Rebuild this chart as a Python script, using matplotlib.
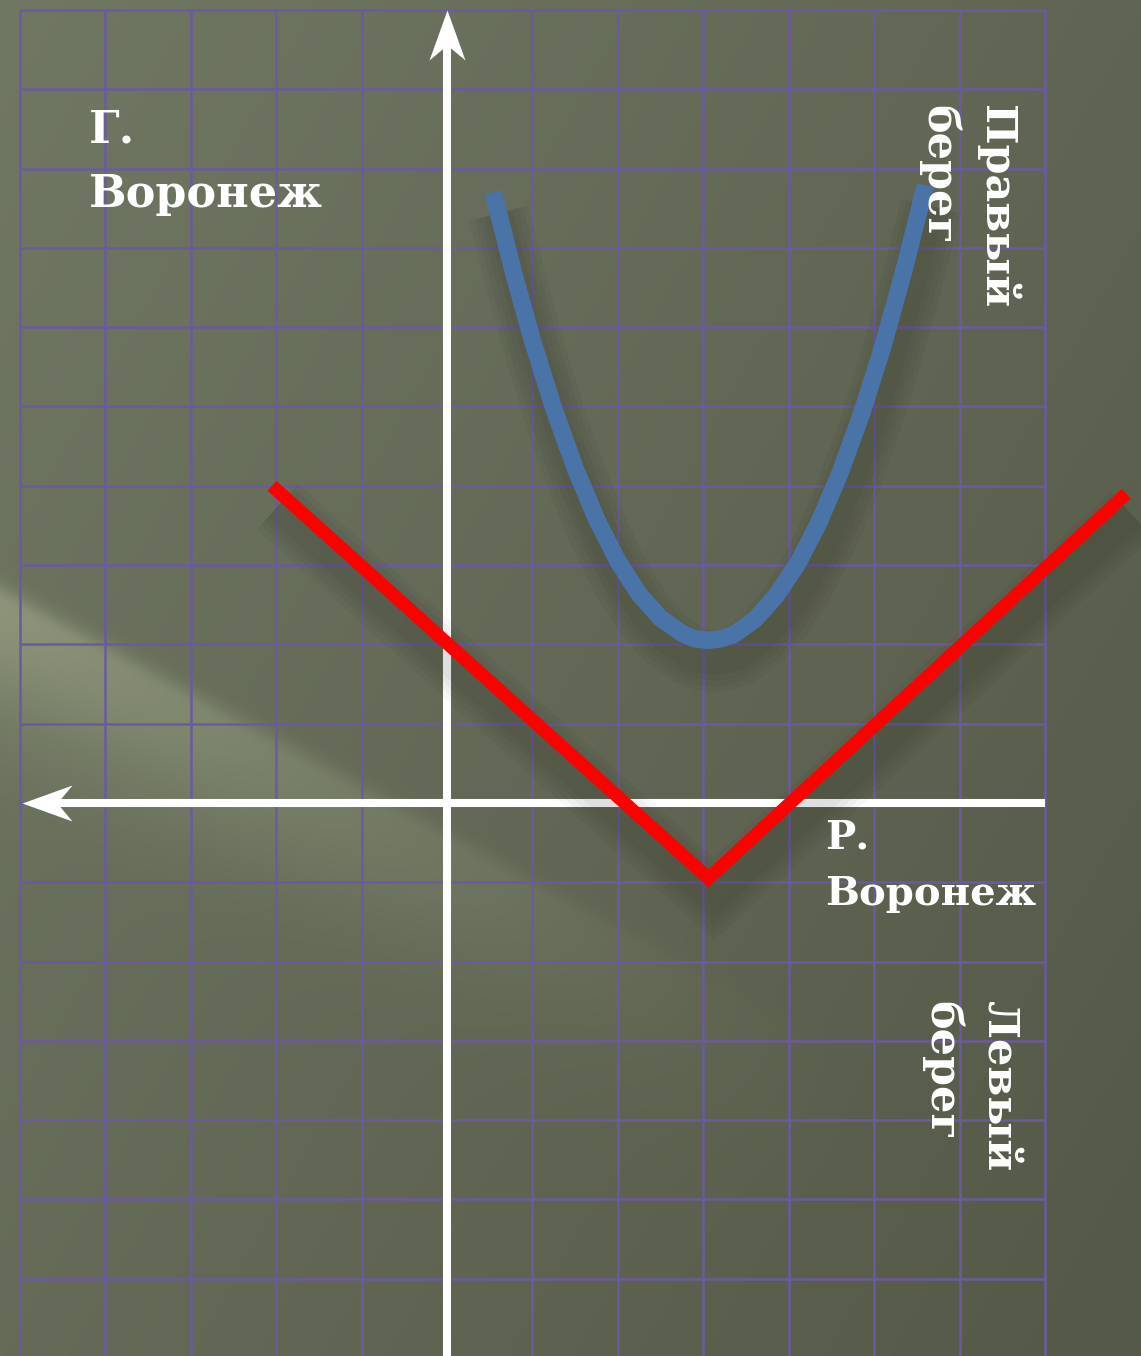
import numpy as np
import matplotlib
matplotlib.use("Agg")
from matplotlib import pyplot as plt
from matplotlib.path import Path
import matplotlib.patheffects as pe

# grid / axes extent (in grid cells)
grid_x = list(range(-5, 8))
grid_y = list(range(-6, 11))

# red broken line
red_x = [-2.05, 3.06, 7.95]
red_y = [4.0, -0.95, 3.9]

# blue parabola, points
blue_x = [0.54, 0.8, 1.0, 1.25, 1.5, 1.75, 2.0, 2.25, 2.5, 2.75, 2.9, 3.06,
          3.2, 3.35, 3.6, 3.85, 4.1, 4.35, 4.6, 4.85, 5.1, 5.35, 5.6]
blue_y = [7.70, 6.60, 5.83, 4.97, 4.22, 3.58, 3.05, 2.63, 2.33, 2.14, 2.07, 2.05,
          2.07, 2.12, 2.31, 2.61, 3.01, 3.53, 4.16, 4.90, 5.75, 6.72, 7.79]

xmin, xmax = -5.234, 8.124
ymin, ymax = -6.974, 10.126

fig = plt.figure(figsize=(11.41, 13.56), dpi=100)
ax = fig.add_axes([0, 0, 1, 1])
ax.set_xlim(xmin, xmax)
ax.set_ylim(ymin, ymax)
ax.axis('off')

# background: olive board with a soft light streak
H, W = 339, 285
yy, xx = np.mgrid[0:H, 0:W]
px = xx * 4.0
py = yy * 4.0
c0 = np.array([112, 119, 99]) / 255.
c1 = np.array([84, 89, 71]) / 255.
t = np.clip(0.6 * px / 1141 + 0.4 * py / 1356, 0, 1)[..., None]
bg = c0 * (1 - t) + c1 * t
# streak (sharper upper edge, soft lower side)
d = (py - (600 + 0.55 * px)) / np.hypot(1, 0.55)
prof = np.where(d < 0, np.exp(-(d / 15.0) ** 2), np.exp(-(d / 100.0) ** 2))
along = np.clip(1 - px / 850, 0, 1)
streak = prof * along ** 1.5
bg = bg + streak[..., None] * (np.array([148, 156, 128]) / 255. - bg) * 0.8
ax.imshow(np.clip(bg, 0, 1), extent=(xmin, xmax, ymin, ymax), aspect='auto',
          interpolation='bilinear', zorder=0)

gcol = '#6c5a9e'
ax.vlines(grid_x, ymin, 10, color=gcol, lw=1.8, zorder=1)
ax.hlines(grid_y, -5, 7, color=gcol, lw=1.8, zorder=1)

# axes with arrow heads
ax.plot([0, 0], [ymin, 9.6], color='white', lw=5.8, solid_capstyle='butt', zorder=2)
ax.plot([7, -4.6], [0, 0], color='white', lw=5.8, solid_capstyle='butt', zorder=2)
up_head = Path([(0, 0), (18, -50), (0, -35), (-18, -50), (0, 0)],
               [Path.MOVETO, Path.LINETO, Path.LINETO, Path.LINETO, Path.CLOSEPOLY])
left_head = Path([(0, 0), (50, 18), (35, 0), (50, -18), (0, 0)],
                 [Path.MOVETO, Path.LINETO, Path.LINETO, Path.LINETO, Path.CLOSEPOLY])
ax.plot([0], [10.0], marker=up_head, markersize=72, color='white', mew=0, zorder=2)
ax.plot([-4.975], [0], marker=left_head, markersize=72, color='white', mew=0, zorder=2)

def shadow():
    fx = [pe.SimpleLineShadow(offset=(4, -15), shadow_color='black', alpha=0.03,
                              linewidth=w, capstyle='butt')
          for w in (44, 36, 28, 20)]
    return fx + [pe.Normal()]

ax.plot(red_x, red_y, color='#ff0000', lw=9.5, solid_joinstyle='miter',
        solid_capstyle='butt', zorder=3, path_effects=shadow())
ax.plot(blue_x, blue_y, color='#4a74a8', lw=12.5, solid_joinstyle='round',
        solid_capstyle='butt', zorder=3, path_effects=shadow())

font = ['DejaVu Serif']
ax.text(-4.19, 8.76, 'Г.\nВоронеж', color='white', fontsize=32, family=font,
        weight='bold', ha='left', va='top', linespacing=1.65, zorder=4)
ax.text(4.43, -0.2, 'Р.\nВоронеж', color='white', fontsize=29, family=font,
        weight='bold', ha='left', va='top', linespacing=1.6, zorder=4)
ax.text(6.7, 8.8, 'Правый\nберег', color='white', fontsize=31, family=font,
        weight='bold', rotation=-90, rotation_mode='anchor', ha='left', va='top',
        linespacing=1.45, zorder=4)
ax.text(6.7, -2.5, 'Левый\nберег', color='white', fontsize=31, family=font,
        weight='bold', rotation=-90, rotation_mode='anchor', ha='left', va='top',
        linespacing=1.45, zorder=4)

fig.savefig('out.png', dpi=100)
